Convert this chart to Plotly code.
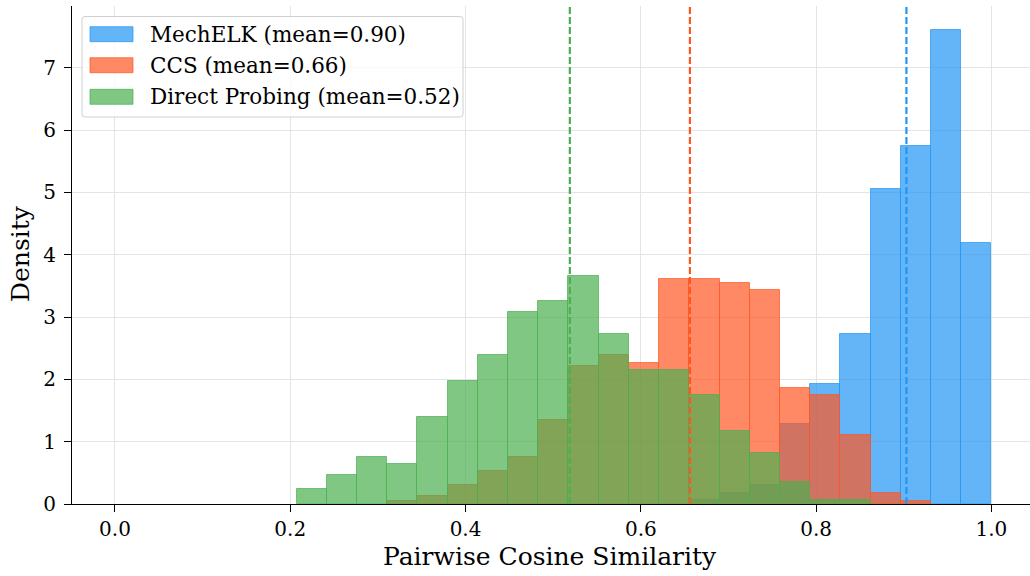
import numpy as np
import plotly.graph_objects as go

# ---- data ----
bin_start = 0.2072
bin_end = 1.0
n_bins = 23

mechelk = [0, 0, 0, 0, 0, 0, 0, 0, 0, 0, 0, 0, 0,
           0.06, 0.18, 0.30, 1.28, 1.93, 2.73, 5.05, 5.74, 7.60, 4.19]
ccs = [0, 0, 0, 0.05, 0.13, 0.30, 0.53, 0.75, 1.35, 2.21, 2.39, 2.26,
       3.61, 3.61, 3.55, 3.43, 1.86, 1.75, 1.11, 0.18, 0.05, 0, 0]
direct = [0.24, 0.465, 0.75, 0.64, 1.40, 1.97, 2.39, 3.08, 3.26, 3.66, 2.73,
          2.15, 2.15, 1.75, 1.17, 0.82, 0.35, 0.06, 0.06, 0, 0, 0, 0]

means = [0.903, 0.656, 0.519]
names = ["MechELK (mean=0.90)", "CCS (mean=0.66)", "Direct Probing (mean=0.52)"]
colors = [(33, 150, 243), (255, 87, 34), (76, 175, 80)]

x_ticks = [0.0, 0.2, 0.4, 0.6, 0.8, 1.0]
x_tick_labels = ["0.0", "0.2", "0.4", "0.6", "0.8", "1.0"]
y_ticks = [0, 1, 2, 3, 4, 5, 6, 7]
y_tick_labels = ["0", "1", "2", "3", "4", "5", "6", "7"]

# ---- figure ----
W, H = 1030, 576
ML, MR, MT, MB = 72, 0, 6, 72
FONT = "DejaVu Serif"
TICK_SIZE = 20
LEG_SIZE = 21.5
LABEL_SIZE = 25

edges = np.linspace(bin_start, bin_end, n_bins + 1)
centers = (edges[:-1] + edges[1:]) / 2
bw = edges[1] - edges[0]

fig = go.Figure()
for vals, name, c in zip([mechelk, ccs, direct], names, colors):
    xs = [x for x, v in zip(centers, vals) if v > 0]
    ys = [v for v in vals if v > 0]
    fig.add_trace(go.Bar(
        x=xs, y=ys, width=bw, name=name, showlegend=False,
        marker=dict(color=f"rgba({c[0]},{c[1]},{c[2]},0.7)",
                    line=dict(color=f"rgba({c[0]},{c[1]},{c[2]},0.7)", width=1)),
    ))

for m, c in zip(means, colors):
    fig.add_shape(type="line", x0=m, x1=m, xref="x", yref="paper", y0=0, y1=1,
                  line=dict(color=f"rgb({c[0]},{c[1]},{c[2]})", width=2.2, dash="7px,3px"),
                  layer="above")

pw = W - ML - MR
ph = H - MT - MB


def px2paper(px, py):
    return (px - ML) / pw, (H - MB - py) / ph


# custom legend box (rounded)
lx0, ly0, lx1, ly1 = 82, 16.5, 463, 117
r = 3
a0, b0 = px2paper(lx0, ly1)
a1, b1 = px2paper(lx1, ly0)
rx, ry = r / pw, r / ph
path = (f"M {a0+rx},{b0} L {a1-rx},{b0} Q {a1},{b0} {a1},{b0+ry} "
        f"L {a1},{b1-ry} Q {a1},{b1} {a1-rx},{b1} L {a0+rx},{b1} "
        f"Q {a0},{b1} {a0},{b1-ry} L {a0},{b0+ry} Q {a0},{b0} {a0+rx},{b0} Z")
fig.add_shape(type="path", path=path, xref="paper", yref="paper",
              fillcolor="rgba(255,255,255,0.8)", line=dict(color="#d0d0d0", width=1),
              layer="above")

row_centers = [34.2, 65.2, 96.8]
for name, c, cy in zip(names, colors, row_centers):
    x0p, y0p = px2paper(90, cy + 7.5)
    x1p, y1p = px2paper(133, cy - 7.5)
    fig.add_shape(type="rect", xref="paper", yref="paper", x0=x0p, x1=x1p, y0=y0p, y1=y1p,
                  fillcolor=f"rgba({c[0]},{c[1]},{c[2]},0.7)",
                  line=dict(color=f"rgba({c[0]},{c[1]},{c[2]},0.7)", width=1), layer="above")
    tx, ty = px2paper(148, cy)
    fig.add_annotation(x=tx, y=ty, xref="paper", yref="paper", text=name, showarrow=False,
                       xanchor="left", yanchor="middle",
                       font=dict(family=FONT, size=LEG_SIZE, color="#000"))

# axis titles
tx, ty = px2paper(550, 556)
fig.add_annotation(x=tx, y=ty, xref="paper", yref="paper", text="Pairwise Cosine Similarity",
                   showarrow=False, xanchor="center", yanchor="middle",
                   font=dict(family=FONT, size=LABEL_SIZE, color="#000"))
tx, ty = px2paper(20.5, 253.5)
fig.add_annotation(x=tx, y=ty, xref="paper", yref="paper", text="Density", textangle=-90,
                   showarrow=False, xanchor="center", yanchor="middle",
                   font=dict(family=FONT, size=LABEL_SIZE, color="#000"))

fig.update_layout(
    width=W, height=H,
    margin=dict(l=ML, r=MR, t=MT, b=MB, autoexpand=False),
    paper_bgcolor="white", plot_bgcolor="white",
    barmode="overlay", bargap=0,
    font=dict(family=FONT, size=TICK_SIZE, color="#000"),
    xaxis=dict(
        range=[-0.049, 1.044], tickvals=x_ticks, ticktext=x_tick_labels,
        showgrid=True, gridcolor="#e4e4e4", gridwidth=1, zeroline=False,
        showline=True, linecolor="black", linewidth=1, automargin=False,
        ticks="outside", ticklen=7, tickwidth=1, tickcolor="black",
        tickfont=dict(family=FONT, size=TICK_SIZE, color="#000"),
    ),
    yaxis=dict(
        range=[0, 7.99], tickvals=y_ticks, ticktext=y_tick_labels,
        showgrid=True, gridcolor="#e4e4e4", gridwidth=1, zeroline=False,
        showline=True, linecolor="black", linewidth=1, automargin=False,
        ticks="outside", ticklen=7, tickwidth=1, tickcolor="black",
        ticklabelstandoff=4,
        tickfont=dict(family=FONT, size=TICK_SIZE, color="#000"),
    ),
)

fig.write_html(
    "out.html",
    config={"displayModeBar": False},
    post_script="document.body.style.margin='0';document.body.style.overflow='hidden';",
)
